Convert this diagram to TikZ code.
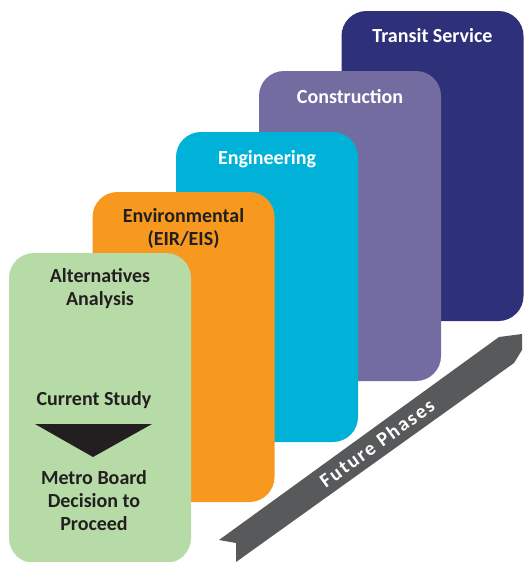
\documentclass[tikz,border=0pt]{standalone}
\usepackage{fontspec}
\setmainfont{Carlito}
\definecolor{cnavy}{HTML}{2E307A}
\definecolor{cpurple}{HTML}{736CA0}
\definecolor{ccyan}{HTML}{00B2D8}
\definecolor{corange}{HTML}{F7991F}
\definecolor{cgreen}{HTML}{B6DBA6}
\definecolor{cgrey}{HTML}{58595B}
\definecolor{cdark}{HTML}{231F20}
\begin{document}
\begin{tikzpicture}[x=1pt,y=-1pt,
  phase/.style={rectangle, rounded corners=25pt, minimum width=182pt, minimum height=310pt, inner sep=0pt, draw=none},
  lbl/.style={font=\fontsize{20}{23}\selectfont\bfseries, align=center, inner sep=0pt, anchor=center},
  band/.style={fill=cgrey}]
\useasboundingbox (0,0) rectangle (523,562);
% phase boxes, back to front
\node[phase, fill=cnavy]   (ts)  at (432.5,166) {};
\node[phase, fill=cpurple] (con) at (350,226) {};
\node[phase, fill=ccyan]   (eng) at (267,287) {};
\node[phase, fill=corange] (env) at (183.5,347) {};
\node[phase, fill=cgreen]  (alt) at (100,408) {};
% labels
\node[lbl, text=white] (tsl)  at (432.5,36) {Transit Service};
\node[lbl, text=white] (conl) at (350,97) {Construction};
\node[lbl, text=white] (engl) at (267,159) {Engineering};
\node[lbl, text=cdark] (envl) at (183.5,228) {Environmental\\(EIR/EIS)};
\node[lbl, text=cdark] (altl) at (100,289) {Alternatives\\Analysis};
\node[lbl, text=cdark] (cur)  at (94,400) {Current Study};
\node[lbl, text=cdark] (mbd)  at (94,501) {Metro Board\\Decision to\\Proceed};
% triangle between study and decision
\fill[cdark] (35,424) -- (152,424) -- (93,457) -- cycle;
% future phases band
\fill[band] (219,540) -- (236,543) -- (236,562) -- (514,363) -- (522,350) -- (522,334) -- (499,337) -- cycle;
\node[rotate=35.9, text=white, inner sep=0pt, font=\fontsize{20}{20}\selectfont\bfseries\addfontfeature{LetterSpace=9}] (fp) at (377,443) {Future Phases};
\end{tikzpicture}
\end{document}
